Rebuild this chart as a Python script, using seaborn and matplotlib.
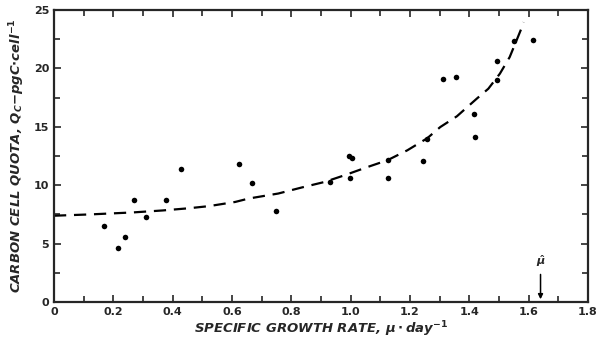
import matplotlib
matplotlib.use("Agg")
import matplotlib.pyplot as plt
import seaborn as sns
import pandas as pd
from matplotlib.ticker import MultipleLocator

# measured points (specific growth rate vs carbon cell quota)
mu = [0.167, 0.217, 0.240, 0.268, 0.310, 0.378, 0.427, 0.624, 0.668, 0.748,
      0.932, 0.993, 1.003, 0.997, 1.127, 1.127, 1.244, 1.258, 1.310, 1.354,
      1.415, 1.420, 1.493, 1.492, 1.552, 1.614]
qc = [6.5, 4.6, 5.6, 8.7, 7.3, 8.7, 11.4, 11.8, 10.15, 7.8,
      10.3, 12.5, 12.3, 10.6, 12.2, 10.6, 12.05, 14.0, 19.1, 19.3,
      16.1, 14.1, 20.6, 19.05, 22.35, 22.45]

# fitted curve
curve_mu = [0.0, 0.120, 0.265, 0.366, 0.455, 0.522, 0.611, 0.656, 0.756, 0.834,
            0.912, 0.979, 1.057, 1.124, 1.191, 1.258, 1.302, 1.358, 1.425, 1.464,
            1.503, 1.536, 1.559, 1.575, 1.583]
curve_qc = [7.39, 7.50, 7.67, 7.84, 8.03, 8.21, 8.57, 8.86, 9.29, 9.80,
            10.28, 10.85, 11.56, 12.14, 12.99, 14.02, 14.98, 15.90, 17.41, 18.26,
            19.55, 20.97, 22.39, 23.39, 23.96]

x_ticks = [0, 0.2, 0.4, 0.6, 0.8, 1.0, 1.2, 1.4, 1.6, 1.8]
x_labels = ["0", "0.2", "0.4", "0.6", "0.8", "1.0", "1.2", "1.4", "1.6", "1.8"]
y_ticks = [0, 5, 10, 15, 20, 25]

mu_max = 1.64

pts = pd.DataFrame({"mu": mu, "qc": qc})
fit = pd.DataFrame({"mu": curve_mu, "qc": curve_qc})

sns.set_style("ticks")
plt.rcParams["font.family"] = ["DejaVu Sans"]
plt.rcParams["mathtext.fontset"] = "custom"
plt.rcParams["mathtext.it"] = "DejaVu Sans:italic:bold"
plt.rcParams["mathtext.rm"] = "DejaVu Sans:bold"

fig = plt.figure(figsize=(6, 3.39), dpi=100)
ax = fig.add_axes([0.09, 0.109, 0.89, 0.8615])

sns.lineplot(data=fit, x="mu", y="qc", ax=ax, color="black", lw=1.6,
             linestyle=(0, (5.5, 3.5)), sort=False)
sns.scatterplot(data=pts, x="mu", y="qc", ax=ax, color="black", s=16,
                edgecolor="black", linewidth=0, zorder=3)

# mu hat marker on the x axis
ax.annotate("", xy=(mu_max, 0), xytext=(mu_max, 2.6),
            arrowprops=dict(arrowstyle="-|>", color="black", lw=1.1,
                            mutation_scale=7))
ax.text(mu_max, 2.8, r"$\hat{\mu}$", ha="center", va="bottom", fontsize=8)

ax.set_xlim(0, 1.8)
ax.set_ylim(0, 25)
ax.set_xticks(x_ticks, x_labels)
ax.set_yticks(y_ticks)
ax.xaxis.set_minor_locator(MultipleLocator(0.1))
ax.yaxis.set_minor_locator(MultipleLocator(2.5))
ax.tick_params(which="both", direction="in", top=True, right=True,
               labelsize=8, width=1.2)
ax.tick_params(which="major", length=5)
ax.tick_params(which="minor", length=4)
for lab in ax.get_xticklabels() + ax.get_yticklabels():
    lab.set_fontweight("bold")
for sp in ax.spines.values():
    sp.set_linewidth(1.6)

ax.set_xlabel(r"SPECIFIC GROWTH RATE, $\mu\cdot$day$^{-1}$", fontsize=9.5,
              style="italic", fontweight="bold", labelpad=2)
ax.set_ylabel(r"CARBON CELL QUOTA, $Q_C$$-$pgC$\cdot$cell$^{-1}$", fontsize=9.5,
              style="italic", fontweight="bold", labelpad=5)

fig.savefig("out.png", dpi=100)
